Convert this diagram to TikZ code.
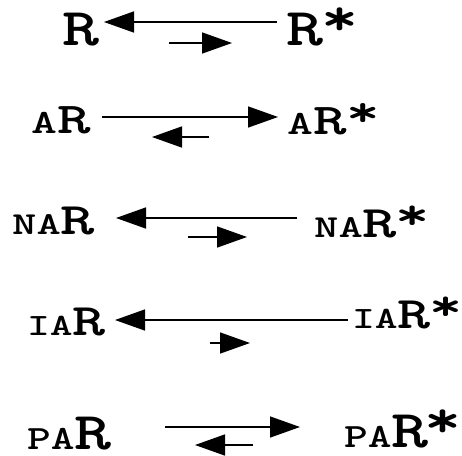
\documentclass[tikz,border=0pt]{standalone}
\usepackage{fontspec}
\usepackage{graphicx}
\usetikzlibrary{arrows.meta}
\newcommand\fs[1]{\fontsize{#1}{#1}\selectfont}
\newcommand\wide[2]{\scalebox{#1}[1]{#2}}
\newcommand\st[2]{\kern#1\raisebox{#2}{*}}
\tikzset{
  lbl/.style={inner sep=0pt, anchor=base west, font=\ttfamily\bfseries\addfontfeatures{FakeBold=1.2}},
  arr/.style={line width=1.5pt, -{Triangle[length=30pt,width=21pt]}}
}
\begin{document}
\begin{tikzpicture}[x=1pt,y=-1pt]
\useasboundingbox (0,0) rectangle (462,455);
% row 1
\node[lbl] (r1l) at (62,45) {\wide{1.33}{\fs{53}R}};
\node[lbl] (r1r) at (286,45) {\wide{1.33}{\fs{53}R\st{-1pt}{10pt}}};
\coordinate (a1s) at (277,22); \coordinate (a1e) at (104,22);
\coordinate (b1s) at (169,43); \coordinate (b1e) at (232,43);
\draw[arr] (a1s) -- (a1e);
\draw[arr] (b1s) -- (b1e);
% row 2
\node[lbl] (r2l) at (31,133) {\wide{1.45}{\fs{34}A\fs{44}R}};
\node[lbl] (r2r) at (287,134) {\wide{1.45}{\fs{34}A\fs{44}R\st{0pt}{8pt}}};
\coordinate (a2s) at (102,117); \coordinate (a2e) at (278,117);
\coordinate (b2s) at (209,137); \coordinate (b2e) at (152,137);
\draw[arr] (a2s) -- (a2e);
\draw[arr] (b2s) -- (b2e);
% row 3
\node[lbl] (r3l) at (12,234) {\wide{1.45}{\fs{32}NA\fs{45}R}};
\node[lbl] (r3r) at (314,237) {\wide{1.45}{\fs{32}NA\fs{45}R\st{-1pt}{8pt}}};
\coordinate (a3s) at (297,218); \coordinate (a3e) at (116,218);
\coordinate (b3s) at (188,237); \coordinate (b3e) at (247,237);
\draw[arr] (a3s) -- (a3e);
\draw[arr] (b3s) -- (b3e);
% row 4
\node[lbl] (r4l) at (27,335) {\wide{1.4}{\fs{31}IA\fs{45}R}};
\node[lbl] (r4r) at (352,328) {\wide{1.4}{\fs{31}IA\fs{45}R\st{-1pt}{8pt}}};
\coordinate (a4s) at (348,320); \coordinate (a4e) at (115,320);
\coordinate (b4s) at (210,343); \coordinate (b4e) at (250,343);
\draw[arr] (a4s) -- (a4e);
\draw[arr] (b4s) -- (b4e);
% row 5
\node[lbl] (r5l) at (27,449) {\wide{1.33}{\fs{34}PA\fs{53}R}};
\node[lbl] (r5r) at (344,447) {\wide{1.33}{\fs{34}PA\fs{53}R\st{-3pt}{10pt}}};
\coordinate (a5s) at (165,427); \coordinate (a5e) at (300,427);
\coordinate (b5s) at (253,445); \coordinate (b5e) at (195,445);
\draw[arr] (a5s) -- (a5e);
\draw[arr] (b5s) -- (b5e);
\end{tikzpicture}
\end{document}
